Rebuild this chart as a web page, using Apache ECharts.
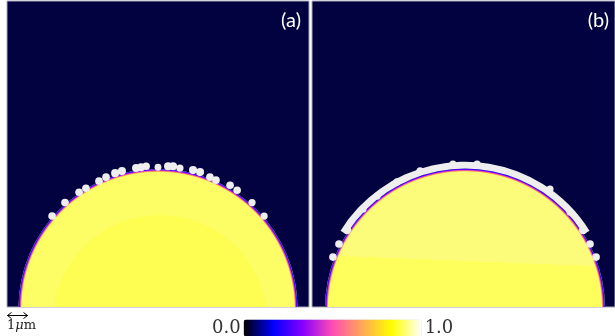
<!DOCTYPE html>
<html><head><meta charset="utf-8">
<script src="https://cdn.jsdelivr.net/npm/echarts@6/dist/echarts.min.js"></script>
<style>html,body{margin:0;padding:0;background:#fff}#c{width:615px;height:336px}</style>
</head><body><div id="c"></div>
<script>
// ---- data (units: micrometres) ----
const panelLabels = ['(a)', '(b)'];
const colorbarTicks = ['1.0', '0.0'];
const scaleBarLabel = '1';
// disk [cx, cy, r]
const diskA = [[7.5, -0.07, 6.93]];
const diskAInner = [[7.6, -0.75, 5.32]];
const diskB = [[7.6, -0.07, 6.95]];
// band on panel b: [cx, cy, r0, r1, angleFromDeg, angleToDeg]
const bandB = [[7.6, -0.07, 6.9, 7.29, 32, 148]];
// droplets [x, y, r]
const blobsA = [
  [2.24, 4.52, 0.19], [2.88, 5.19, 0.19], [3.58, 5.70, 0.19], [3.92, 5.90, 0.19],
  [4.57, 6.25, 0.19], [4.92, 6.45, 0.19], [5.37, 6.65, 0.2], [5.71, 6.75, 0.2],
  [6.41, 6.90, 0.2], [6.66, 6.94, 0.2], [6.91, 6.99, 0.19], [7.50, 6.94, 0.17],
  [8.00, 6.99, 0.2], [8.25, 6.99, 0.2], [8.59, 6.90, 0.18], [9.24, 6.80, 0.2],
  [9.59, 6.70, 0.2], [10.08, 6.45, 0.19], [10.38, 6.30, 0.19], [11.08, 6.05, 0.19],
  [11.43, 5.80, 0.19], [12.17, 5.19, 0.18], [12.77, 4.52, 0.18]
];
const blobsB = [
  [1.74, 3.83, 0.21], [1.34, 3.13, 0.19], [1.04, 2.48, 0.19],
  [13.46, 3.83, 0.21], [13.81, 3.13, 0.19], [14.11, 2.48, 0.19],
  [7.00, 7.10, 0.18], [8.20, 7.10, 0.18], [5.37, 6.76, 0.18], [4.22, 6.21, 0.18],
  [3.23, 5.51, 0.18], [2.53, 4.87, 0.18], [11.82, 5.86, 0.18], [12.82, 4.72, 0.18]
];
const cmap = ['#000000', '#0000ff', '#8700ff', '#ff4db3', '#ffa857', '#ffff00', '#ffffff'];

// ---- rendering ----
const chart = echarts.init(document.getElementById('c'), null, {renderer: 'canvas'});
const edgeStops = (inner) => [
  {offset: 0, color: inner},
  {offset: 0.975, color: inner},
  {offset: 0.981, color: '#ffb050'},
  {offset: 0.987, color: '#e040c0'},
  {offset: 0.993, color: '#6000ff'},
  {offset: 1, color: '#1010e0'}
];
function diskRender(fillFn) {
  return function (params, api) {
    const c = api.coord([api.value(0), api.value(1)]);
    const r = api.size([api.value(2), 0])[0];
    return {
      type: 'group',
      children: [
        {type: 'circle', shape: {cx: c[0], cy: c[1], r: r}, style: {fill: fillFn()}},
        {type: 'ring', shape: {cx: c[0], cy: c[1], r: r, r0: r * 0.96},
          style: {fill: new echarts.graphic.RadialGradient(0.5, 0.5, 0.5, edgeStops('rgba(253,253,100,0)'))}}
      ]
    };
  };
}
function plainCircle(color) {
  return function (params, api) {
    const c = api.coord([api.value(0), api.value(1)]);
    const r = api.size([api.value(2), 0])[0];
    return {type: 'circle', shape: {cx: c[0], cy: c[1], r: r}, style: {fill: color}};
  };
}
function bandRender(params, api) {
  const c = api.coord([api.value(0), api.value(1)]);
  const r0 = api.size([api.value(2), 0])[0];
  const r1 = api.size([api.value(3), 0])[0];
  return {
    type: 'sector',
    shape: {cx: c[0], cy: c[1], r0: r0, r: r1,
      startAngle: -api.value(5) * Math.PI / 180, endAngle: -api.value(4) * Math.PI / 180, clockwise: true},
    style: {fill: '#eeeeee'}
  };
}
const gridStyle = {show: true, backgroundColor: '#020240', borderColor: '#a8a8b8', borderWidth: 1, containLabel: false};
const option = {
  animation: false,
  grid: [
    Object.assign({left: 7, top: 1, width: 302, height: 306}, gridStyle),
    Object.assign({left: 312, top: 1, width: 303, height: 306}, gridStyle)
  ],
  xAxis: [
    {gridIndex: 0, type: 'value', min: 0, max: 15, show: false},
    {gridIndex: 1, type: 'value', min: 0, max: 15.05, show: false}
  ],
  yAxis: [
    {gridIndex: 0, type: 'value', min: 0, max: 15.2, show: false},
    {gridIndex: 1, type: 'value', min: 0, max: 15.2, show: false}
  ],
  visualMap: {
    type: 'continuous', orient: 'horizontal', min: 0, max: 1, calculable: false,
    seriesIndex: 7, text: colorbarTicks, textGap: 3, padding: 0,
    itemWidth: 17, itemHeight: 178, left: 212, top: 319,
    inRange: {color: cmap},
    textStyle: {fontFamily: 'DejaVu Serif', fontSize: 18, color: '#333'}
  },
  series: [
    {type: 'custom', xAxisIndex: 0, yAxisIndex: 0, clip: true, data: diskA,
      renderItem: diskRender(() => '#fdfd66')},
    {type: 'custom', xAxisIndex: 0, yAxisIndex: 0, clip: true, data: diskAInner,
      renderItem: plainCircle('#fefe52')},
    {type: 'custom', xAxisIndex: 0, yAxisIndex: 0, clip: true, data: blobsA,
      renderItem: plainCircle('#eeeeee')},
    {type: 'custom', xAxisIndex: 1, yAxisIndex: 1, clip: true, data: bandB,
      renderItem: bandRender},
    {type: 'custom', xAxisIndex: 1, yAxisIndex: 1, clip: true, data: diskB,
      renderItem: diskRender(() => new echarts.graphic.LinearGradient(0.52, 0, 0.48, 1, [
        {offset: 0, color: '#fcfc7a'}, {offset: 0.33, color: '#fcfc7a'},
        {offset: 0.331, color: '#fefe5c'}, {offset: 1, color: '#fefe5c'}]))},
    {type: 'custom', xAxisIndex: 1, yAxisIndex: 1, clip: true, data: blobsB,
      renderItem: plainCircle('#eeeeee')},
    {type: 'custom', xAxisIndex: 1, yAxisIndex: 1, clip: true, data: [], renderItem: plainCircle('#fff')},
    {type: 'scatter', xAxisIndex: 0, yAxisIndex: 0, data: [], silent: true}
  ],
  graphic: [
    {type: 'text', right: 615 - 301, top: 11, style: {text: panelLabels[0], fill: '#fff', font: '20px Lato'}},
    {type: 'text', right: 6, top: 11, style: {text: panelLabels[1], fill: '#fff', font: '20px Lato'}},
    {type: 'group', left: 5, top: 310, children: [
      {type: 'line', shape: {x1: 1, y1: 5, x2: 21, y2: 5}, style: {stroke: '#000', lineWidth: 1}},
      {type: 'polyline', shape: {points: [[5, 2], [1, 5], [5, 8]]}, style: {stroke: '#000', lineWidth: 1, fill: null}},
      {type: 'polyline', shape: {points: [[17, 2], [21, 5], [17, 8]]}, style: {stroke: '#000', lineWidth: 1, fill: null}}
    ]},
    {type: 'text', left: 7, top: 319, style: {
      text: '{n|' + scaleBarLabel + '}{g|μ}{n|m}',
      rich: {
        n: {fontFamily: 'DejaVu Serif', fontSize: 13, fill: '#222'},
        g: {fontFamily: 'DejaVu Serif', fontStyle: 'italic', fontSize: 13, fill: '#222'}
      }
    }}
  ]
};
chart.setOption(option);
</script></body></html>
